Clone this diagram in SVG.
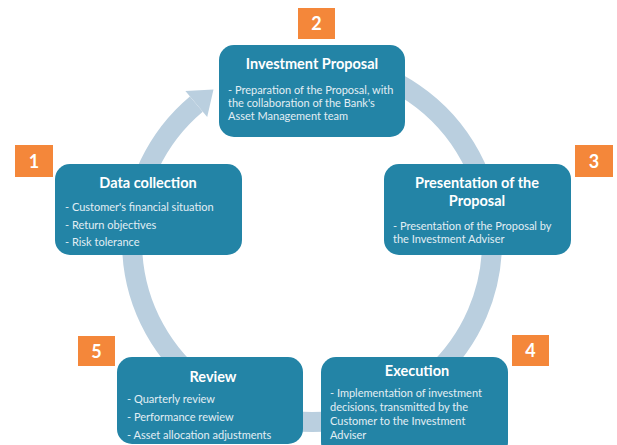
<svg xmlns="http://www.w3.org/2000/svg" width="617" height="445" viewBox="0 0 617 445">
  <style>
    .box { fill: #2384a6; }
    .badge { fill: #f4873a; }
    .num { font-family: Lato, "Liberation Sans", sans-serif; font-weight: bold; font-size: 18px; fill: #ffffff; text-anchor: middle; }
    .title { font-family: Lato, "Liberation Sans", sans-serif; font-weight: bold; font-size: 14.5px; fill: #ffffff; text-anchor: middle; }
    .body { font-family: Lato, "Liberation Sans", sans-serif; font-size: 11px; fill: #e2eef4; }
    .ring { fill: none; stroke: #bacfdf; stroke-width: 20; }
  </style>

  <!-- cycle ring with arrowhead pointing into the top step -->
  <g id="connectors">
    <path class="ring" d="M 343.3 64.7 A 180 180 0 1 1 196.3 104.1"/>
    <polygon points="185.4,91.1 213.5,89.5 207.2,117.1" fill="#bacfdf"/>
  </g>

  <g id="step1">
    <rect class="badge" x="15" y="145" width="38" height="32"/>
    <text class="num" x="34" y="168">1</text>
    <rect class="box" x="55" y="164" width="187" height="91" rx="15"/>
    <text class="title" x="148" y="188">Data collection</text>
    <text class="body" x="65" y="211">- Customer's financial situation</text>
    <text class="body" x="65" y="229">- Return objectives</text>
    <text class="body" x="65" y="246">- Risk tolerance</text>
  </g>

  <g id="step2">
    <rect class="badge" x="298" y="8" width="37" height="31"/>
    <text class="num" x="316.5" y="30">2</text>
    <rect class="box" x="219" y="45" width="186" height="92" rx="15"/>
    <text class="title" x="312" y="69">Investment Proposal</text>
    <text class="body" x="228" y="94">- Preparation of the Proposal, with</text>
    <text class="body" x="228" y="107">the collaboration of the Bank's</text>
    <text class="body" x="228" y="120">Asset Management team</text>
  </g>

  <g id="step3">
    <rect class="badge" x="575" y="145" width="38" height="32"/>
    <text class="num" x="594" y="168">3</text>
    <rect class="box" x="384" y="164" width="187" height="91" rx="15"/>
    <text class="title" x="477" y="188">Presentation of the</text>
    <text class="title" x="477" y="206">Proposal</text>
    <text class="body" x="393" y="230">- Presentation of the Proposal by</text>
    <text class="body" x="393" y="243">the Investment Adviser</text>
  </g>

  <g id="step4">
    <rect class="badge" x="512" y="335" width="37" height="31"/>
    <text class="num" x="530.5" y="357">4</text>
    <rect class="box" x="321" y="357" width="187" height="100" rx="15"/>
    <text class="title" x="417" y="376">Execution</text>
    <text class="body" x="330" y="397">- Implementation of investment</text>
    <text class="body" x="330" y="411">decisions, transmitted by the</text>
    <text class="body" x="330" y="425">Customer to the Investment</text>
    <text class="body" x="330" y="439">Adviser</text>
  </g>

  <g id="step5">
    <rect class="badge" x="78" y="336" width="37" height="30"/>
    <text class="num" x="96.5" y="358">5</text>
    <rect class="box" x="117" y="357" width="186" height="87" rx="15"/>
    <text class="title" x="213" y="382">Review</text>
    <text class="body" x="127" y="403">- Quarterly review</text>
    <text class="body" x="127" y="421">- Performance rewiew</text>
    <text class="body" x="127" y="439">- Asset allocation adjustments</text>
  </g>
</svg>
